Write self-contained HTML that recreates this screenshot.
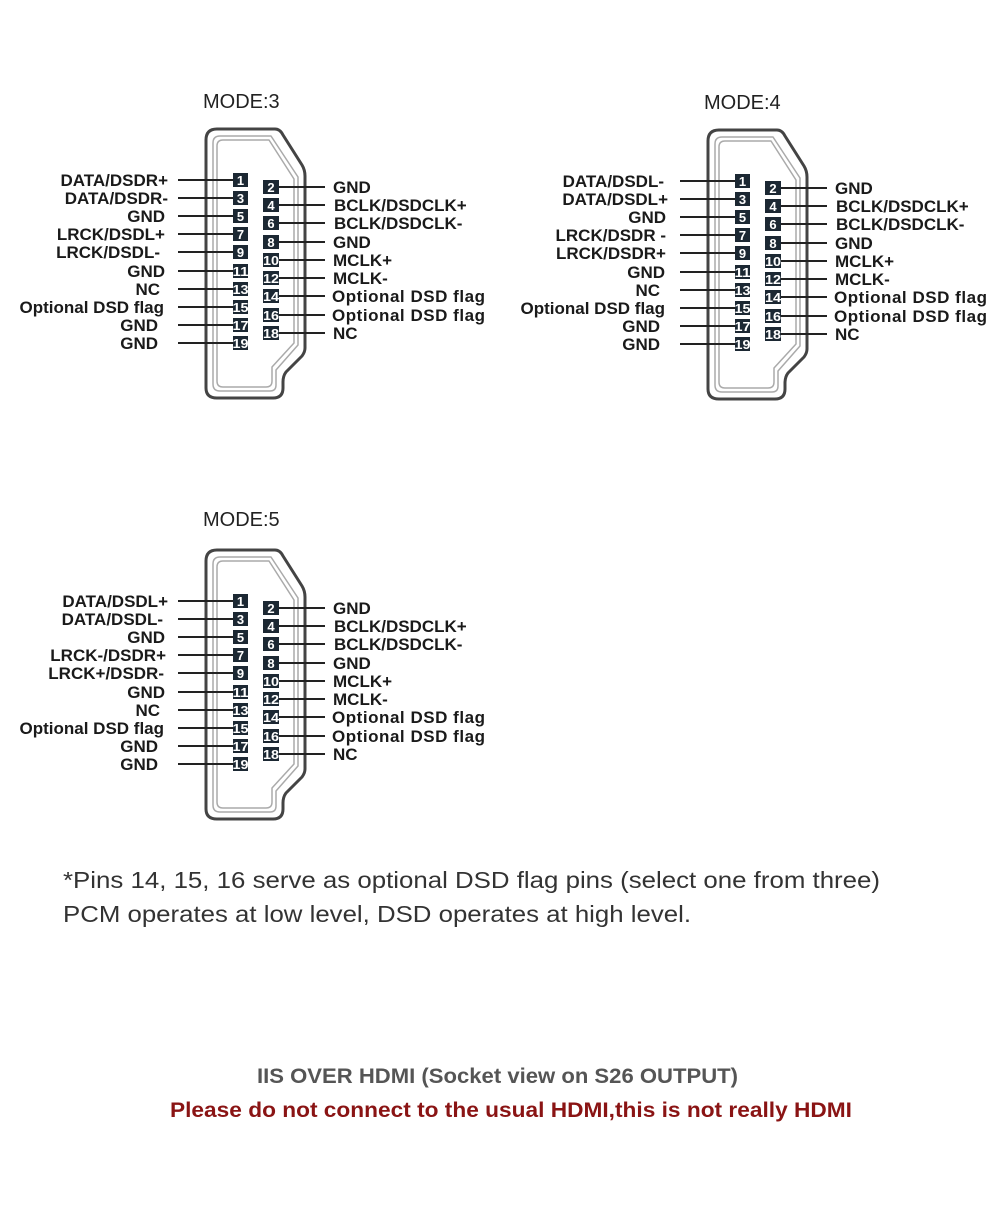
<!DOCTYPE html>
<html><head><meta charset="utf-8"><style>
html,body{margin:0;padding:0;background:#fff;}
svg{display:block;}
.lb{font-family:"Liberation Sans",sans-serif;font-weight:bold;font-size:17px;fill:#1a1a1a;}
.pn{font-family:"Liberation Sans",sans-serif;font-weight:bold;font-size:13px;fill:#fff;text-anchor:middle;}
.md{font-family:"Liberation Sans",sans-serif;font-size:20px;fill:#222;}
</style></head><body>
<svg width="1000" height="1206" viewBox="0 0 1000 1206" xmlns="http://www.w3.org/2000/svg">
<defs>
<g id="conn">
<path d="M206,140 Q206,129 217,129 L275,129 Q280,129 283,135 L302,165 Q305,170 305,176 L305,348 Q305,352 302,356 L286,372 Q283,376 283,382 L283,388 Q283,398 273,398 L217,398 Q206,398 206,388 Z" fill="none" stroke="#444" stroke-width="3" stroke-linejoin="round"/>
<path d="M213,143 Q213,136 220,136 L271,136 L298,177 L298,345 L276,370 L276,385 Q276,391 270,391 L220,391 Q213,391 213,384 Z" fill="none" stroke="#aaa" stroke-width="1.5" stroke-linejoin="round"/>
<path d="M217,146 Q217,140 223,140 L269,140 L294,179 L294,343 L272,367 L272,381 Q272,387 266,387 L223,387 Q217,387 217,381 Z" fill="none" stroke="#aaa" stroke-width="1.5" stroke-linejoin="round"/>
<g stroke="#222" stroke-width="2">
<line x1="178" y1="180" x2="233" y2="180"/><line x1="178" y1="198" x2="233" y2="198"/><line x1="178" y1="216" x2="233" y2="216"/><line x1="178" y1="234" x2="233" y2="234"/><line x1="178" y1="252" x2="233" y2="252"/><line x1="178" y1="271" x2="233" y2="271"/><line x1="178" y1="289" x2="233" y2="289"/><line x1="178" y1="307" x2="233" y2="307"/><line x1="178" y1="325" x2="233" y2="325"/><line x1="178" y1="343" x2="233" y2="343"/>
<line x1="279" y1="187" x2="325" y2="187"/><line x1="279" y1="205" x2="325" y2="205"/><line x1="279" y1="223" x2="325" y2="223"/><line x1="279" y1="242" x2="325" y2="242"/><line x1="279" y1="260" x2="325" y2="260"/><line x1="279" y1="278" x2="325" y2="278"/><line x1="279" y1="296" x2="325" y2="296"/><line x1="279" y1="315" x2="325" y2="315"/><line x1="279" y1="333" x2="325" y2="333"/>
</g>
<g fill="#1c2833">
<rect x="233" y="173" width="15" height="14"/><rect x="233" y="191" width="15" height="14"/><rect x="233" y="209" width="15" height="14"/><rect x="233" y="227" width="15" height="14"/><rect x="233" y="245" width="15" height="14"/><rect x="233" y="264" width="15" height="14"/><rect x="233" y="282" width="15" height="14"/><rect x="233" y="300" width="15" height="14"/><rect x="233" y="318" width="15" height="14"/><rect x="233" y="336" width="15" height="14"/>
<rect x="263" y="180" width="16" height="14"/><rect x="263" y="198" width="16" height="14"/><rect x="263" y="216" width="16" height="14"/><rect x="263" y="235" width="16" height="14"/><rect x="263" y="253" width="16" height="14"/><rect x="263" y="271" width="16" height="14"/><rect x="263" y="289" width="16" height="14"/><rect x="263" y="308" width="16" height="14"/><rect x="263" y="326" width="16" height="14"/>
</g>
</g>
</defs>

<g id="m3">
<text class="md" x="203" y="108">MODE:3</text>
<use href="#conn"/>
<g class="pn">
<text x="240.5" y="185">1</text><text x="240.5" y="203">3</text><text x="240.5" y="221">5</text><text x="240.5" y="239">7</text><text x="240.5" y="257">9</text><text x="240.5" y="276" textLength="16" lengthAdjust="spacingAndGlyphs">11</text><text x="240.5" y="294" textLength="16" lengthAdjust="spacingAndGlyphs">13</text><text x="240.5" y="312" textLength="16" lengthAdjust="spacingAndGlyphs">15</text><text x="240.5" y="330" textLength="16" lengthAdjust="spacingAndGlyphs">17</text><text x="240.5" y="348" textLength="16" lengthAdjust="spacingAndGlyphs">19</text>
<text x="271" y="192">2</text><text x="271" y="210">4</text><text x="271" y="228">6</text><text x="271" y="247">8</text><text x="271" y="265" textLength="16" lengthAdjust="spacingAndGlyphs">10</text><text x="271" y="283" textLength="16" lengthAdjust="spacingAndGlyphs">12</text><text x="271" y="301" textLength="16" lengthAdjust="spacingAndGlyphs">14</text><text x="271" y="320" textLength="16" lengthAdjust="spacingAndGlyphs">16</text><text x="271" y="338" textLength="16" lengthAdjust="spacingAndGlyphs">18</text>
</g>
<g class="lb" text-anchor="end">
<text x="168" y="186">DATA/DSDR+</text><text x="168" y="204">DATA/DSDR-</text><text x="165" y="222">GND</text><text x="165" y="240">LRCK/DSDL+</text><text x="160" y="258">LRCK/DSDL-</text><text x="165" y="277">GND</text><text x="160" y="295">NC</text><text x="164" y="313">Optional DSD flag</text><text x="158" y="331">GND</text><text x="158" y="349">GND</text>
</g>
<g class="lb">
<text x="333" y="193">GND</text><text x="334" y="211">BCLK/DSDCLK+</text><text x="334" y="229">BCLK/DSDCLK-</text><text x="333" y="248">GND</text><text x="333" y="266">MCLK+</text><text x="333" y="284">MCLK-</text><text x="332" y="302" textLength="153">Optional DSD flag</text><text x="332" y="321" textLength="153">Optional DSD flag</text><text x="333" y="339">NC</text>
</g>
</g>

<g transform="translate(502,1)">
<text class="md" x="202" y="108">MODE:4</text>
<use href="#conn"/>
<g class="pn">
<text x="240.5" y="185">1</text><text x="240.5" y="203">3</text><text x="240.5" y="221">5</text><text x="240.5" y="239">7</text><text x="240.5" y="257">9</text><text x="240.5" y="276" textLength="16" lengthAdjust="spacingAndGlyphs">11</text><text x="240.5" y="294" textLength="16" lengthAdjust="spacingAndGlyphs">13</text><text x="240.5" y="312" textLength="16" lengthAdjust="spacingAndGlyphs">15</text><text x="240.5" y="330" textLength="16" lengthAdjust="spacingAndGlyphs">17</text><text x="240.5" y="348" textLength="16" lengthAdjust="spacingAndGlyphs">19</text>
<text x="271" y="192">2</text><text x="271" y="210">4</text><text x="271" y="228">6</text><text x="271" y="247">8</text><text x="271" y="265" textLength="16" lengthAdjust="spacingAndGlyphs">10</text><text x="271" y="283" textLength="16" lengthAdjust="spacingAndGlyphs">12</text><text x="271" y="301" textLength="16" lengthAdjust="spacingAndGlyphs">14</text><text x="271" y="320" textLength="16" lengthAdjust="spacingAndGlyphs">16</text><text x="271" y="338" textLength="16" lengthAdjust="spacingAndGlyphs">18</text>
</g>
<g class="lb" text-anchor="end">
<text x="162" y="186">DATA/DSDL-</text><text x="166" y="204">DATA/DSDL+</text><text x="164" y="222">GND</text><text x="164" y="240">LRCK/DSDR -</text><text x="164" y="258">LRCK/DSDR+</text><text x="163" y="277">GND</text><text x="158" y="295">NC</text><text x="163" y="313">Optional DSD flag</text><text x="158" y="331">GND</text><text x="158" y="349">GND</text>
</g>
<g class="lb">
<text x="333" y="193">GND</text><text x="334" y="211">BCLK/DSDCLK+</text><text x="334" y="229">BCLK/DSDCLK-</text><text x="333" y="248">GND</text><text x="333" y="266">MCLK+</text><text x="333" y="284">MCLK-</text><text x="332" y="302" textLength="153">Optional DSD flag</text><text x="332" y="321" textLength="153">Optional DSD flag</text><text x="333" y="339">NC</text>
</g>
</g>

<g transform="translate(0,421)">
<text class="md" x="203" y="105">MODE:5</text>
<use href="#conn"/>
<g class="pn">
<text x="240.5" y="185">1</text><text x="240.5" y="203">3</text><text x="240.5" y="221">5</text><text x="240.5" y="239">7</text><text x="240.5" y="257">9</text><text x="240.5" y="276" textLength="16" lengthAdjust="spacingAndGlyphs">11</text><text x="240.5" y="294" textLength="16" lengthAdjust="spacingAndGlyphs">13</text><text x="240.5" y="312" textLength="16" lengthAdjust="spacingAndGlyphs">15</text><text x="240.5" y="330" textLength="16" lengthAdjust="spacingAndGlyphs">17</text><text x="240.5" y="348" textLength="16" lengthAdjust="spacingAndGlyphs">19</text>
<text x="271" y="192">2</text><text x="271" y="210">4</text><text x="271" y="228">6</text><text x="271" y="247">8</text><text x="271" y="265" textLength="16" lengthAdjust="spacingAndGlyphs">10</text><text x="271" y="283" textLength="16" lengthAdjust="spacingAndGlyphs">12</text><text x="271" y="301" textLength="16" lengthAdjust="spacingAndGlyphs">14</text><text x="271" y="320" textLength="16" lengthAdjust="spacingAndGlyphs">16</text><text x="271" y="338" textLength="16" lengthAdjust="spacingAndGlyphs">18</text>
</g>
<g class="lb" text-anchor="end">
<text x="168" y="186">DATA/DSDL+</text><text x="163" y="204">DATA/DSDL-</text><text x="165" y="222">GND</text><text x="166" y="240">LRCK-/DSDR+</text><text x="164" y="258">LRCK+/DSDR-</text><text x="165" y="277">GND</text><text x="160" y="295">NC</text><text x="164" y="313">Optional DSD flag</text><text x="158" y="331">GND</text><text x="158" y="349">GND</text>
</g>
<g class="lb">
<text x="333" y="193">GND</text><text x="334" y="211">BCLK/DSDCLK+</text><text x="334" y="229">BCLK/DSDCLK-</text><text x="333" y="248">GND</text><text x="333" y="266">MCLK+</text><text x="333" y="284">MCLK-</text><text x="332" y="302" textLength="153">Optional DSD flag</text><text x="332" y="321" textLength="153">Optional DSD flag</text><text x="333" y="339">NC</text>
</g>
</g>

<g font-family="Liberation Sans, sans-serif" font-size="23" fill="#333">
<text x="63" y="888" textLength="817" lengthAdjust="spacingAndGlyphs">*Pins 14, 15, 16 serve as optional DSD flag pins (select one from three)</text>
<text x="63" y="922" textLength="628" lengthAdjust="spacingAndGlyphs">PCM operates at low level, DSD operates at high level.</text>
</g>
<text x="257" y="1083" font-family="Liberation Sans, sans-serif" font-weight="bold" font-size="21" fill="#555" textLength="481" lengthAdjust="spacingAndGlyphs">IIS OVER HDMI (Socket view on S26 OUTPUT)</text>
<text x="170" y="1117" font-family="Liberation Sans, sans-serif" font-weight="bold" font-size="21" fill="#8a1414" textLength="682" lengthAdjust="spacingAndGlyphs">Please do not connect to the usual HDMI,this is not really HDMI</text>
</svg>
</body></html>
